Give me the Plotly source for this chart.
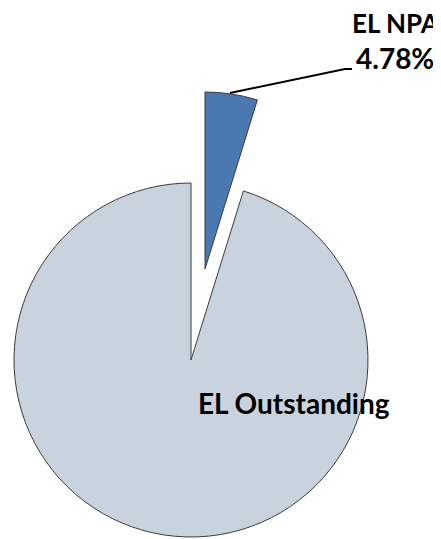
import plotly.graph_objects as go

# ---- data ----
labels = ["EL NPA", "EL Outstanding"]
values = [4.78, 95.22]
pct_labels = ["4.78%"]

# ---- styling / layout ----
OFF = 8                  # default page body margin
W, H = 441 - OFF, 539 - OFF
colors = ["#4a78b1", "#c9d3de"]
edge = "#3c3c3c"
R = 177
main_c = (191, 360)      # page-pixel centre of main pie
pull_c = (205, 269)      # page-pixel centre of exploded slice
font_fam = "Lato"

def px(x, y):
    return (x - OFF) / W, 1 - (y - OFF) / H

def dom(c):
    cx, cy = c
    x0, y1 = px(cx - R, cy - R)
    x1, y0 = px(cx + R, cy + R)
    return dict(x=[max(0, x0), min(1, x1)], y=[max(0, y0), min(1, y1)])

transparent = "rgba(0,0,0,0)"

fig = go.Figure()
fig.add_trace(go.Pie(
    labels=labels, values=values, sort=False, direction="clockwise", rotation=0,
    marker=dict(colors=[transparent, colors[1]], line=dict(color=edge, width=[0, 1])),
    textinfo="none", hoverinfo="label+percent", domain=dom(main_c), showlegend=False,
))
fig.add_trace(go.Pie(
    labels=labels, values=values, sort=False, direction="clockwise", rotation=0,
    marker=dict(colors=[colors[0], transparent], line=dict(color=edge, width=[1, 0])),
    textinfo="none", hoverinfo="label+percent", domain=dom(pull_c), showlegend=False,
))

tf = dict(family=font_fam, size=28, color="#000000")
tf_small = dict(family=font_fam, size=26, color="#000000")

ann = []
x, y = px(350, 23)
ann.append(dict(x=x, y=y, xref="paper", yref="paper", text="<b>%s</b>" % labels[0],
                showarrow=False, xanchor="left", yanchor="middle", font=tf_small))
x, y = px(354, 58)
ann.append(dict(x=x, y=y, xref="paper", yref="paper", text="<b>%s</b>" % pct_labels[0],
                showarrow=False, xanchor="left", yanchor="middle", font=tf))
x, y = px(196, 403)
ann.append(dict(x=x, y=y, xref="paper", yref="paper", text="<b>%s</b>" % labels[1],
                showarrow=False, xanchor="left", yanchor="middle", font=tf))

p0 = px(230, 93)
p1 = px(345, 69)
p2 = px(352, 69)
path = "M %f %f L %f %f L %f %f" % (p0[0], p0[1], p1[0], p1[1], p2[0], p2[1])
shapes = [dict(type="path", xref="paper", yref="paper", path=path,
               line=dict(color="#000000", width=2))]

fig.update_layout(width=W, height=H, margin=dict(l=0, r=0, t=0, b=0),
                  paper_bgcolor="white", plot_bgcolor="white",
                  annotations=ann, shapes=shapes)
fig.write_html("out.html")
